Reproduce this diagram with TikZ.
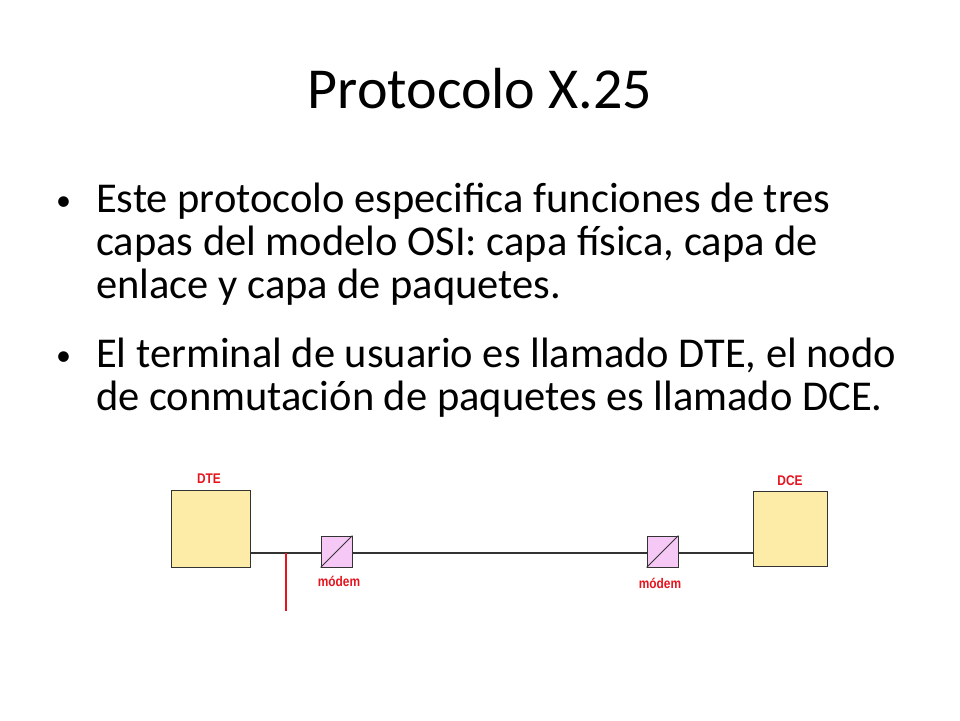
\documentclass[tikz,border=0pt]{standalone}
\usepackage{fontspec}
\setmainfont{Carlito}
\newfontfamily\lblfont{Liberation Sans}
\definecolor{boxy}{RGB}{252,236,168}
\definecolor{modp}{RGB}{246,200,246}
\definecolor{lred}{RGB}{230,20,30}
\tikzset{
 dbox/.style={draw=black!80,line width=1pt,fill=boxy,minimum width=79pt,minimum height=77pt,inner sep=0pt},
 modem/.style={draw=black!80,line width=0.8pt,fill=modp,minimum width=31pt,minimum height=31pt,inner sep=0pt},
 lbl/.style={text=lred,font=\lblfont\bfseries\fontsize{14}{16}\selectfont,inner sep=0pt,xscale=0.85},
 wire/.style={draw=black!80,line width=1.2pt},
 body/.style={anchor=base west,inner sep=0pt,font=\fontsize{42.5}{48}\selectfont},
 bul/.style={anchor=base west,inner sep=0pt,font=\fontsize{30}{34}\selectfont}
}
\begin{document}
\begin{tikzpicture}[x=1pt,y=-1pt]
\useasboundingbox[fill=white] (0,0) rectangle (960,720);
\node[inner sep=0pt,font=\fontsize{58}{64}\selectfont,anchor=base] (title) at (480,108) {Protocolo X.25};
\node[bul] (b1) at (56,210) {•};
\node[body] (l1) at (96,212) {Este protocolo especifica funciones de tres};
\node[body] (l2) at (96,255) {capas del modelo OSI: capa física, capa de};
\node[body] (l3) at (96,298) {enlace y capa de paquetes.};
\node[bul] (b2) at (56,365) {•};
\node[body] (l4) at (96,367) {El terminal de usuario es llamado DTE, el nodo};
\node[body] (l5) at (96,410) {de conmutación de paquetes es llamado DCE.};
\node[dbox] (dte) at (210.5,528.5) {};
\node[dbox,minimum width=74pt,minimum height=75pt] (dce) at (790,528.5) {};
\node[modem] (m1) at (336.5,551.5) {};
\node[modem] (m2) at (662.5,551.5) {};
\draw[black!80,line width=0.8pt] (m1.south west) -- (m1.north east);
\draw[black!80,line width=0.8pt] (m2.south west) -- (m2.north east);
\coordinate (dteout) at (250,553);
\coordinate (dceout) at (753,553);
\coordinate (tap) at (286,553);
\coordinate (tapend) at (286,611);
\draw[wire] (dteout) -- (m1.west |- dteout);
\draw[wire] (m1.east |- dteout) -- (m2.west |- dteout);
\draw[wire] (m2.east |- dteout) -- (dceout);
\draw[lred,line width=1.2pt] (tap) -- (tapend);
\node[lbl] (ldte) at (209,479) {DTE};
\node[lbl] (ldce) at (790,481) {DCE};
\node[lbl] (lm1) at (339,581) {módem};
\node[lbl] (lm2) at (660,583) {módem};
\end{tikzpicture}
\end{document}
